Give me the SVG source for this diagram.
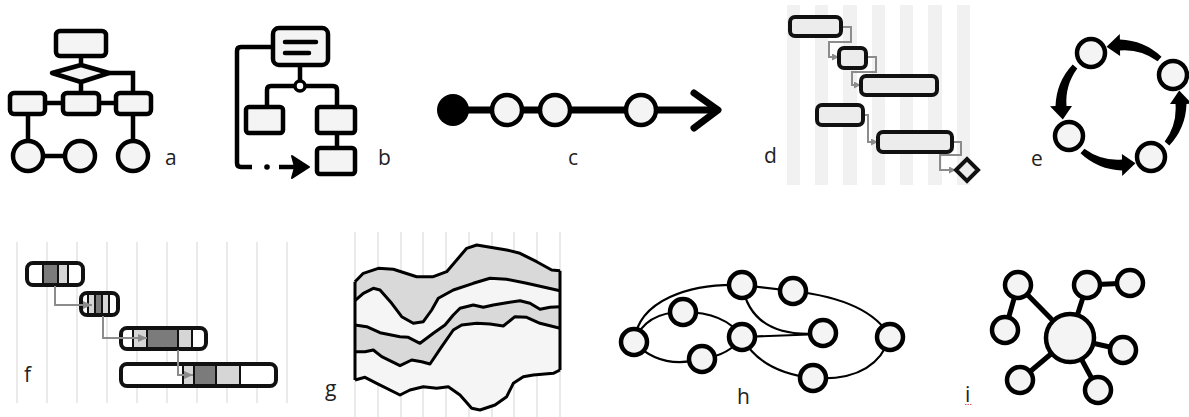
<svg xmlns="http://www.w3.org/2000/svg" width="1189" height="417" viewBox="0 0 1189 417">
<style>
.lbl{font-family:"Open Sans","Liberation Sans",sans-serif;font-size:21px;fill:#222}
.sh{fill:#f4f4f4;stroke:#000;stroke-width:4.5}
.ln{fill:none;stroke:#000;stroke-width:4.5}
.gc{fill:none;stroke:#8c8c8c;stroke-width:2}
.bar{fill:#ececec;stroke:#111;stroke-width:4}
.fb{fill:none;stroke:#111;stroke-width:4}
.sep{stroke:#111;stroke-width:2}
.dk{fill:#7b7b7b}
.lt{fill:#d6d6d6}
.grid{stroke:#dcdcdc;stroke-width:1.2}
.hn{fill:#f4f4f4;stroke:#000;stroke-width:4.5}
.he{fill:none;stroke:#000;stroke-width:2.2}
.ie{fill:none;stroke:#000;stroke-width:5}
.gs{fill:none;stroke:#000;stroke-width:3;stroke-linejoin:round}
</style>
<defs>
<marker id="ga" markerUnits="userSpaceOnUse" markerWidth="7" markerHeight="7" refX="7" refY="3.5" orient="auto"><path d="M0,0 L7,3.5 L0,7 z" fill="#8c8c8c"/></marker>
<marker id="fa" markerUnits="userSpaceOnUse" markerWidth="9" markerHeight="8" refX="9" refY="4" orient="auto"><path d="M0,0 L9,4 L0,8 z" fill="#8c8c8c"/></marker>
</defs>

<!-- a -->
<g id="a">
<g id="a-edges" class="ln">
<path d="M81,56 V66 M81,81 V94 M109,73 H133 V94 M45,103 H63 M99,103 H116 M28,114 V141 M133,114 V141 M43,156 H65"/>
</g>
<rect class="sh" x="56" y="31" width="50" height="25" rx="4"/>
<polygon class="sh" points="52,73 81,65 109,73 81,82" stroke-linejoin="round"/>
<rect class="sh" x="10" y="93" width="35" height="21" rx="4"/>
<rect class="sh" x="63" y="93" width="36" height="21" rx="4"/>
<rect class="sh" x="116" y="93" width="35" height="21" rx="4"/>
<circle class="sh" cx="28" cy="156" r="15"/>
<circle class="sh" cx="80" cy="156" r="15"/>
<circle class="sh" cx="133" cy="156" r="15"/>
<text class="lbl" x="165" y="165">a</text>
</g>

<!-- b -->
<g id="b">
<g id="b-edges">
<path class="ln" stroke-width="5" d="M274,47 H241 Q237,47 237,51 V163 Q237,167 241,167 H252 M300,65 V81 M267,107 V90 Q267,86 271,86 H333 Q337,86 337,90 V107 M337,133 V148 M279,167 H295"/>
<circle cx="267" cy="167" r="2.8" fill="#000"/>
<polygon points="292,156 309,167 292,178 295,167" fill="#000" stroke="#000" stroke-width="2" stroke-linejoin="round"/>
</g>
<rect class="sh" stroke-width="5" x="273" y="28" width="55" height="37" rx="6"/>
<path d="M285,42 H316 M285,53 H309" stroke="#000" stroke-width="4.5" stroke-linecap="round"/>
<circle cx="300" cy="86" r="5" fill="#fff" stroke="#000" stroke-width="3.5"/>
<rect class="sh" stroke-width="5" x="246" y="107" width="37" height="26" rx="3"/>
<rect class="sh" stroke-width="5" x="317" y="107" width="38" height="26" rx="3"/>
<rect class="sh" stroke-width="5" x="317" y="148" width="38" height="26" rx="3"/>
<text class="lbl" x="378" y="165">b</text>
</g>

<!-- c -->
<g id="c">
<g id="c-edges">
<path d="M453,110 H717" stroke="#000" stroke-width="7"/>
<path d="M694,93 L718,110 L694,128" fill="none" stroke="#000" stroke-width="7" stroke-linecap="round" stroke-linejoin="round"/>
</g>
<circle cx="453" cy="110" r="16" fill="#000"/>
<circle class="sh" cx="507" cy="110" r="15"/>
<circle class="sh" cx="555" cy="110" r="15"/>
<circle class="sh" cx="641" cy="110" r="15"/>
<text class="lbl" x="568" y="165">c</text>
</g>

<!-- d -->
<g id="d">
<g fill="#f1f1f1">
<rect x="787" y="5" width="13" height="180"/>
<rect x="815" y="5" width="13" height="180"/>
<rect x="843" y="5" width="14" height="180"/>
<rect x="872" y="5" width="13" height="180"/>
<rect x="900" y="5" width="13" height="180"/>
<rect x="928" y="5" width="14" height="180"/>
<rect x="957" y="5" width="13" height="180"/>
</g>
<g id="d-edges" class="gc">
<path d="M841,27 H851 V42 H829 V57 H839" marker-end="url(#ga)"/>
<path d="M866,57 H876 V72 H852 V85 H861" marker-end="url(#ga)"/>
<path d="M863,115 H868 V142 H878" marker-end="url(#ga)"/>
<path d="M952,142 H961 V155 H940 V170 H956" marker-end="url(#ga)"/>
</g>
<rect class="bar" x="790" y="17" width="51" height="19" rx="5"/>
<rect class="bar" x="839" y="48" width="27" height="20" rx="5"/>
<rect class="bar" x="861" y="76" width="76" height="19" rx="5"/>
<rect class="bar" x="817" y="105" width="46" height="20" rx="5"/>
<rect class="bar" x="878" y="132" width="74" height="20" rx="5"/>
<polygon class="bar" points="956,170 967,159 978,170 967,181"/>
<text class="lbl" x="764" y="163">d</text>
</g>

<!-- e -->
<g id="e">
<g id="e-edges" fill="#000">
<path d="M1161.5,56.74 A64,64 0 0 0 1119.9,39.5 L1119.8,34 L1106.5,46.8 L1120.1,56 L1120,50.5 A56,56 0 0 1 1157.6,61.34 Z"/>
<path d="M1072.7,64.5 A64,64 0 0 0 1055.5,106.1 L1050,106.2 L1062.8,119.5 L1072,105.9 L1066.5,105.95 A56,56 0 0 1 1077.3,68.4 Z"/>
<path d="M1080.5,153.3 A64,64 0 0 0 1122.1,170.5 L1122.2,176 L1135.5,163.2 L1121.9,154 L1122,159.5 A56,56 0 0 1 1084.4,148.7 Z"/>
<path d="M1169.3,145.5 A64,64 0 0 0 1186.5,103.9 L1192,103.8 L1179.2,90.5 L1170,104.1 L1175.5,104.05 A56,56 0 0 1 1164.7,141.6 Z"/>
</g>
<circle class="sh" cx="1091" cy="53" r="14"/>
<circle class="sh" cx="1173" cy="75" r="14"/>
<circle class="sh" cx="1151" cy="157" r="14"/>
<circle class="sh" cx="1069" cy="136" r="14"/>
<text class="lbl" x="1031" y="166">e</text>
</g>

<!-- f -->
<g id="f">
<g class="grid">
<path d="M17,242 V403 M47,242 V403 M77,242 V403 M107,242 V403 M137,242 V403 M167,242 V403 M197,242 V403 M227,242 V403 M257,242 V403 M287,242 V403"/>
</g>
<g>
<rect x="27" y="263" width="56" height="22" rx="6" fill="#fff"/>
<rect class="dk" x="43" y="263" width="15" height="22"/>
<rect class="lt" x="58" y="263" width="10" height="22"/>
<path class="sep" d="M43,263 V285 M58,263 V285 M68,263 V285"/>
<rect class="fb" x="27" y="263" width="56" height="22" rx="6"/>
</g>
<g>
<rect x="81" y="293" width="37" height="22" rx="6" fill="#fff"/>
<rect class="lt" x="88" y="293" width="7" height="22"/>
<rect class="dk" x="95" y="293" width="7" height="22"/>
<rect class="lt" x="102" y="293" width="7" height="22"/>
<path class="sep" d="M88,293 V315 M95,293 V315 M102,293 V315 M109,293 V315"/>
<rect class="fb" x="81" y="293" width="37" height="22" rx="6"/>
</g>
<g>
<rect x="121" y="328" width="85" height="21" rx="6" fill="#fff"/>
<rect class="lt" x="133" y="328" width="14" height="21"/>
<rect class="dk" x="147" y="328" width="31" height="21"/>
<rect class="lt" x="178" y="328" width="14" height="21"/>
<path class="sep" d="M133,328 V349 M147,328 V349 M178,328 V349 M192,328 V349"/>
<rect class="fb" x="121" y="328" width="85" height="21" rx="6"/>
</g>
<g>
<rect x="121" y="364" width="155" height="22" rx="6" fill="#fff"/>
<rect class="lt" x="183" y="364" width="11" height="22"/>
<rect class="dk" x="194" y="364" width="22" height="22"/>
<rect class="lt" x="216" y="364" width="24" height="22"/>
<path class="sep" d="M183,364 V386 M194,364 V386 M216,364 V386 M240,364 V386"/>
<rect class="fb" x="121" y="364" width="155" height="22" rx="6"/>
</g>
<g id="f-edges" class="gc">
<path d="M55,286 V305 H92" marker-end="url(#fa)"/>
<path d="M103,316 V338 H147" marker-end="url(#fa)"/>
<path d="M178,350 V375 H193" marker-end="url(#fa)"/>
</g>
<text class="lbl" x="24" y="382">f</text>
</g>

<!-- g -->
<g id="g">
<g class="grid" stroke="#cfcfcf">
<path d="M355,232 V417 M378,232 V417 M401,232 V417 M423,232 V417 M446,232 V417 M469,232 V417 M492,232 V417 M514,232 V417 M537,232 V417 M560,232 V417"/>
</g>
<path fill="#d9d9d9" d="M355,281.7 L363.3,273.3 L378.3,268.3 L393.3,269.3 L416.7,276.7 L433.3,276.7 L446.7,271.7 L466.7,248.3 L476.7,245 L506.7,250 L520,253.3 L536.7,261.7 L551.7,270 L560,270.7 L560,370 L553.3,373.3 L533.3,375 L523.3,376.7 L513.3,383.3 L506.7,396.7 L495,405 L480,410 L471.7,408.3 L460,395 L448.3,386.7 L436.7,388.3 L423.3,386.7 L410,390 L400,395 L376.7,383.3 L365,377.3 L355,380 Z"/>
<path fill="#f5f5f5" d="M355,300.7 L363.3,293.3 L373.3,288.3 L380,290 L391.7,303.3 L401.7,316.7 L413.3,323.3 L423.3,321.7 L431.7,310 L438.3,298.3 L453.3,290 L473.3,283.3 L490,278.3 L506.7,279.3 L526.7,283.3 L560,290.7 L560,370 L553.3,373.3 L533.3,375 L523.3,376.7 L513.3,383.3 L506.7,396.7 L495,405 L480,410 L471.7,408.3 L460,395 L448.3,386.7 L436.7,388.3 L423.3,386.7 L410,390 L400,395 L376.7,383.3 L365,377.3 L355,380 Z"/>
<path fill="#d9d9d9" d="M355,325 L366.7,326.7 L380,332.7 L400,336.7 L408.3,337.3 L420,343.3 L433.3,333.3 L445,325 L453.3,315 L460,308.3 L473.3,305 L483.3,307.3 L493.3,305 L506.7,302.7 L520,300.7 L530,303.3 L540,309.3 L550,307.3 L560,306.7 L560,370 L553.3,373.3 L533.3,375 L523.3,376.7 L513.3,383.3 L506.7,396.7 L495,405 L480,410 L471.7,408.3 L460,395 L448.3,386.7 L436.7,388.3 L423.3,386.7 L410,390 L400,395 L376.7,383.3 L365,377.3 L355,380 Z"/>
<path fill="#f5f5f5" d="M355,351.7 L365,351.7 L373.3,350 L381.7,356.7 L400,365.7 L411.7,360 L421.7,361.7 L430,364 L441.7,346.7 L453.3,330 L461.7,325 L476.7,323.3 L490,324 L503.3,326 L515,316.7 L526.7,317.3 L540,323.3 L560,328.3 L560,370 L553.3,373.3 L533.3,375 L523.3,376.7 L513.3,383.3 L506.7,396.7 L495,405 L480,410 L471.7,408.3 L460,395 L448.3,386.7 L436.7,388.3 L423.3,386.7 L410,390 L400,395 L376.7,383.3 L365,377.3 L355,380 Z"/>
<g class="gs">
<path d="M355,281.7 L363.3,273.3 L378.3,268.3 L393.3,269.3 L416.7,276.7 L433.3,276.7 L446.7,271.7 L466.7,248.3 L476.7,245 L506.7,250 L520,253.3 L536.7,261.7 L551.7,270 L560,270.7"/>
<path d="M355,300.7 L363.3,293.3 L373.3,288.3 L380,290 L391.7,303.3 L401.7,316.7 L413.3,323.3 L423.3,321.7 L431.7,310 L438.3,298.3 L453.3,290 L473.3,283.3 L490,278.3 L506.7,279.3 L526.7,283.3 L560,290.7"/>
<path d="M355,325 L366.7,326.7 L380,332.7 L400,336.7 L408.3,337.3 L420,343.3 L433.3,333.3 L445,325 L453.3,315 L460,308.3 L473.3,305 L483.3,307.3 L493.3,305 L506.7,302.7 L520,300.7 L530,303.3 L540,309.3 L550,307.3 L560,306.7"/>
<path d="M355,351.7 L365,351.7 L373.3,350 L381.7,356.7 L400,365.7 L411.7,360 L421.7,361.7 L430,364 L441.7,346.7 L453.3,330 L461.7,325 L476.7,323.3 L490,324 L503.3,326 L515,316.7 L526.7,317.3 L540,323.3 L560,328.3"/>
<path d="M355,380 L365,377.3 L376.7,383.3 L400,395 L410,390 L423.3,386.7 L436.7,388.3 L448.3,386.7 L460,395 L471.7,408.3 L480,410 L495,405 L506.7,396.7 L513.3,383.3 L523.3,376.7 L533.3,375 L553.3,373.3 L560,370"/>
<path d="M355,281.7 V380 M560,270.7 V370"/>
</g>
<text class="lbl" x="325" y="396">g</text>
</g>

<!-- h -->
<g id="h">
<g id="h-edges" class="he">
<path d="M634,342 C638,300 690,283 742,285"/>
<path d="M742,285 L793,291"/>
<path d="M793,291 Q870,300 890,337"/>
<path d="M890,337 Q875,382 813,378"/>
<path d="M813,378 Q760,372 742,337"/>
<path d="M742,337 L823,334"/>
<path d="M742,285 Q752,340 823,333"/>
<path d="M634,342 Q645,312 683,312"/>
<path d="M683,312 Q725,312 742,337"/>
<path d="M634,342 Q660,370 702,359"/>
<path d="M702,359 Q730,355 742,337"/>
</g>
<circle class="hn" cx="742" cy="285" r="13"/>
<circle class="hn" cx="793" cy="291" r="13"/>
<circle class="hn" cx="683" cy="312" r="13"/>
<circle class="hn" cx="634" cy="342" r="13"/>
<circle class="hn" cx="742" cy="337" r="13"/>
<circle class="hn" cx="823" cy="333" r="13"/>
<circle class="hn" cx="890" cy="337" r="13"/>
<circle class="hn" cx="702" cy="359" r="13"/>
<circle class="hn" cx="813" cy="378" r="13"/>
<text class="lbl" x="737" y="404">h</text>
</g>

<!-- i -->
<g id="i">
<g id="i-edges" class="ie">
<path d="M1070,338 L1018,285 L1005,330 M1070,338 L1087,285 L1130,283 M1070,338 L1123,350 M1070,338 L1020,380 M1070,338 L1098,390"/>
</g>
<circle class="sh" stroke-width="5" cx="1070" cy="338" r="24"/>
<circle class="sh" stroke-width="5" cx="1018" cy="285" r="13"/>
<circle class="sh" stroke-width="5" cx="1005" cy="330" r="13"/>
<circle class="sh" stroke-width="5" cx="1087" cy="285" r="13"/>
<circle class="sh" stroke-width="5" cx="1130" cy="283" r="13"/>
<circle class="sh" stroke-width="5" cx="1123" cy="350" r="13"/>
<circle class="sh" stroke-width="5" cx="1020" cy="380" r="13"/>
<circle class="sh" stroke-width="5" cx="1098" cy="390" r="13"/>
<text class="lbl" x="965" y="402">i</text>
<path d="M965,404.5 H972" stroke="#e05a6a" stroke-width="1.2" stroke-dasharray="1.5,1"/>
</g>
</svg>
